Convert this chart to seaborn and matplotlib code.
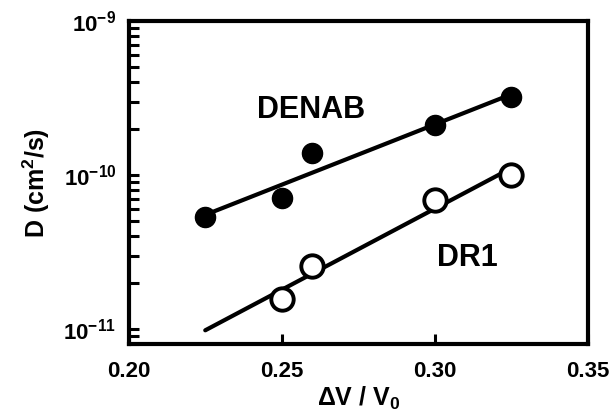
"""D vs dV/V0 for DENAB and DR1"""

import numpy as np
import pandas as pd
import matplotlib
matplotlib.use("Agg")
import matplotlib.pyplot as plt
import seaborn as sns
from matplotlib.ticker import FixedLocator, LogLocator, NullFormatter

# data
denab_x = [0.225, 0.25, 0.26, 0.30, 0.325]
denab_d = [5.3e-11, 7.1e-11, 1.39e-10, 2.1e-10, 3.2e-10]
dr1_x = [0.25, 0.26, 0.30, 0.325]
dr1_d = [1.57e-11, 2.55e-11, 6.9e-11, 1.0e-10]
fit_x = [0.225, 0.325]
x_ticks = [0.20, 0.25, 0.30, 0.35]
y_ticks = [1e-11, 1e-10, 1e-9]
y_ticklabels = ["10$^{-11}$", "10$^{-10}$", "10$^{-9}$"]

sns.set_style("ticks")
plt.rcParams["font.family"] = ["Liberation Sans", "DejaVu Sans"]
plt.rcParams["font.weight"] = "bold"
plt.rcParams["mathtext.fontset"] = "custom"
plt.rcParams["mathtext.rm"] = "Liberation Sans:bold"
plt.rcParams["mathtext.it"] = "Liberation Sans:bold"
plt.rcParams["mathtext.bf"] = "Liberation Sans:bold"
plt.rcParams["mathtext.default"] = "rm"
for key in ["text.color", "axes.labelcolor", "xtick.color", "ytick.color", "axes.edgecolor"]:
    plt.rcParams[key] = "black"


def log_fit(x, d, xs):
    k, b = np.polyfit(x, np.log10(d), 1)
    return 10 ** (k * np.asarray(xs) + b)


df_denab = pd.DataFrame({"x": denab_x, "d": denab_d})
df_dr1 = pd.DataFrame({"x": dr1_x, "d": dr1_d})
df_fit_denab = pd.DataFrame({"x": fit_x, "d": log_fit(denab_x, denab_d, fit_x)})
df_fit_dr1 = pd.DataFrame({"x": fit_x, "d": log_fit(dr1_x, dr1_d, fit_x)})

fig = plt.figure(figsize=(6.13, 4.19), dpi=100)
ax = fig.add_axes([0.21, 0.179, 0.749, 0.771])
ax.set_yscale("log")

sns.lineplot(data=df_fit_denab, x="x", y="d", color="black", linewidth=3, ax=ax, zorder=2)
sns.lineplot(data=df_fit_dr1, x="x", y="d", color="black", linewidth=3, ax=ax, zorder=2)
sns.scatterplot(data=df_denab, x="x", y="d", color="black", s=210, edgecolor="black",
                linewidth=1, ax=ax, zorder=3)
sns.scatterplot(data=df_dr1, x="x", y="d", facecolor="white", s=260, edgecolor="black",
                linewidth=2.8, ax=ax, zorder=3)

ax.text(0.2597, 2.64e-10, "DENAB", fontsize=22, fontweight="bold", ha="center", va="center")
ax.text(0.3105, 2.89e-11, "DR1", fontsize=22, fontweight="bold", ha="center", va="center")

ax.set_xlim(0.20, 0.35)
ax.set_ylim(8e-12, 1e-9)
ax.minorticks_on()
ax.xaxis.set_major_locator(FixedLocator(x_ticks))
ax.xaxis.set_minor_locator(FixedLocator([]))
ax.set_xticklabels([f"{t:.2f}" for t in x_ticks], fontsize=16, fontweight="bold")
ax.yaxis.set_major_locator(FixedLocator(y_ticks))
ax.yaxis.set_minor_locator(LogLocator(base=10, subs=np.arange(2, 10)))
ax.yaxis.set_minor_formatter(NullFormatter())
ax.set_yticklabels(y_ticklabels, fontsize=16, fontweight="bold")

ax.tick_params(axis="both", which="both", direction="in", width=2.2, length=7,
               top=False, right=False, colors="black")
ax.tick_params(axis="x", pad=12)
ax.tick_params(axis="y", pad=9)

for sp in ax.spines.values():
    sp.set_visible(True)
    sp.set_linewidth(3)
    sp.set_color("black")

ax.set_xlabel("ΔV / V$_0$", fontsize=18, fontweight="bold", labelpad=2)
ax.set_ylabel("D (cm$^2$/s)", fontsize=18, fontweight="bold", labelpad=8)

fig.savefig("out.png", dpi=100)
plt.close(fig)
